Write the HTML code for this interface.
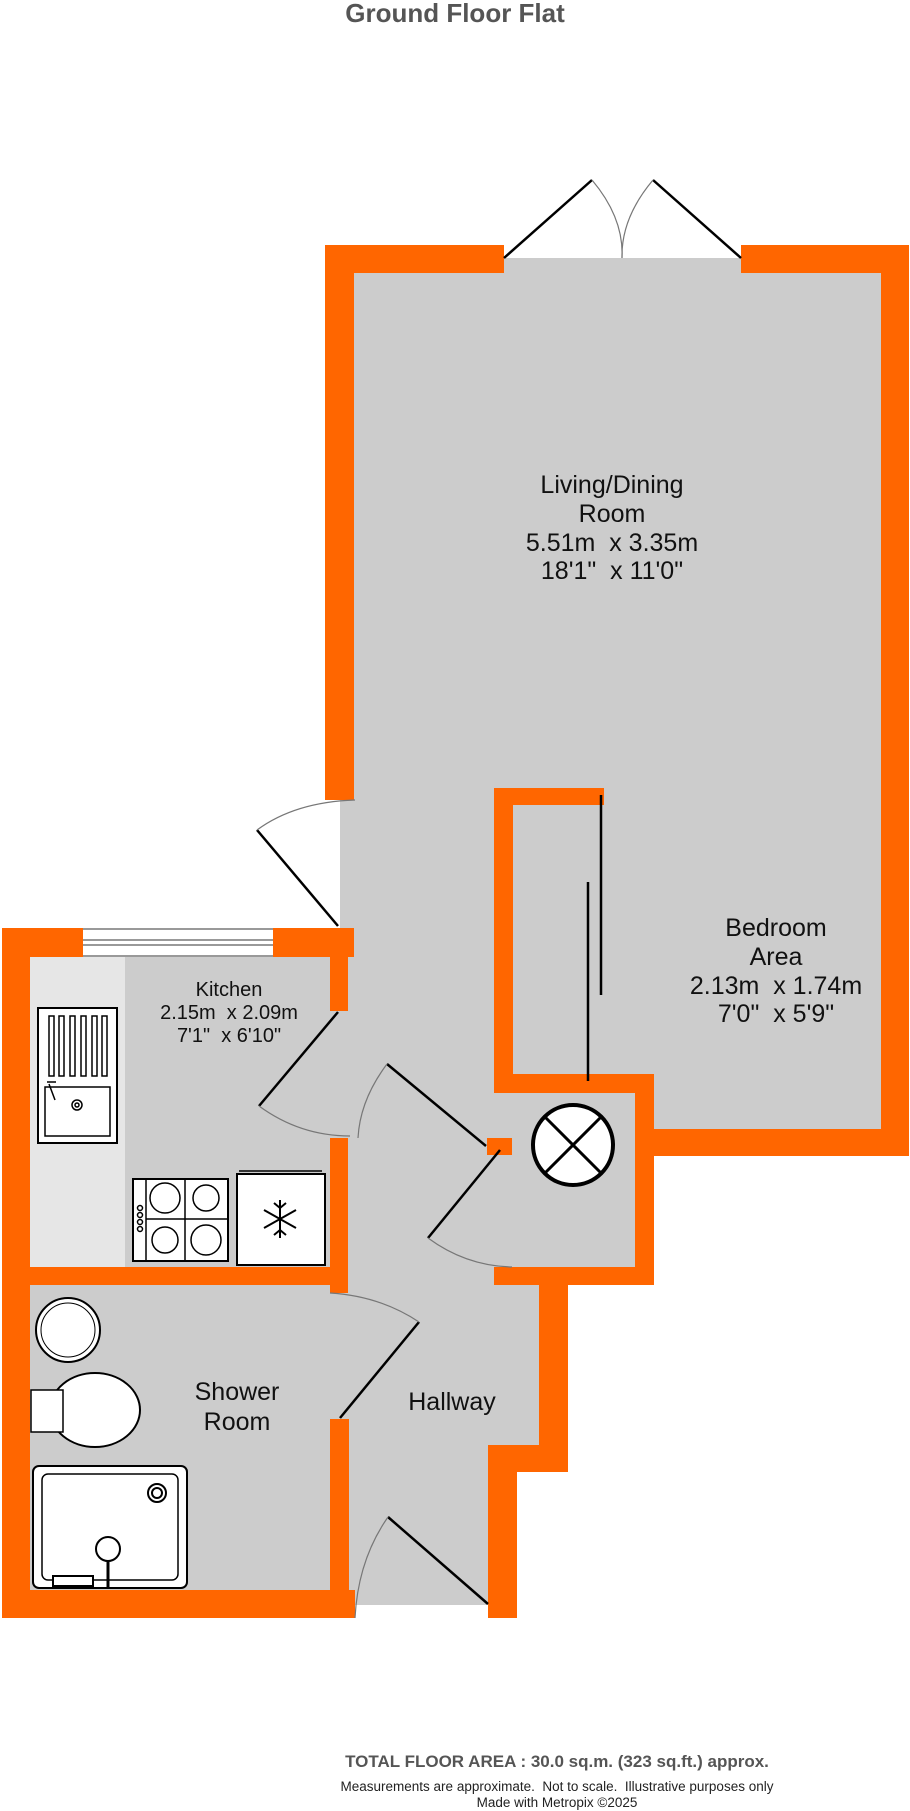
<!DOCTYPE html>
<html><head><meta charset="utf-8"><style>
body{margin:0;background:#fff;}
svg{display:block;font-family:"Liberation Sans",sans-serif;}
</style></head><body>
<svg width="910" height="1811" viewBox="0 0 910 1811" xmlns="http://www.w3.org/2000/svg">
<text x="455" y="22" text-anchor="middle" font-size="26" font-weight="bold" fill="#555">Ground Floor Flat</text>
<!-- floors -->
<g fill="#cccccc">
<rect x="340" y="258" width="555" height="884"/>
<rect x="30" y="955" width="315" height="315"/>
<rect x="30" y="1280" width="315" height="315"/>
<rect x="340" y="1090" width="200" height="360"/>
<rect x="340" y="1440" width="150" height="165"/>
<rect x="512" y="1090" width="125" height="180"/>
</g>
<rect x="30" y="957" width="95" height="310" fill="#e6e6e6"/>
<!-- walls -->
<g fill="#ff6600">
<rect x="325" y="245" width="29" height="555"/>
<rect x="325" y="245" width="179" height="28"/>
<rect x="741" y="245" width="168" height="28"/>
<rect x="881" y="245" width="28" height="911"/>
<rect x="654" y="1129" width="255" height="27"/>
<rect x="494" y="788" width="110" height="17"/>
<rect x="494" y="788" width="19" height="305"/>
<rect x="487" y="1138" width="25" height="17"/>
<rect x="494" y="1074" width="160" height="19"/>
<rect x="635" y="1074" width="19" height="211"/>
<rect x="494" y="1267" width="160" height="18"/>
<rect x="539" y="1267" width="29" height="205"/>
<rect x="488" y="1445" width="80" height="27"/>
<rect x="488" y="1445" width="29" height="173"/>
<rect x="2" y="928" width="81" height="29"/>
<rect x="273" y="928" width="81" height="29"/>
<rect x="2" y="928" width="28" height="690"/>
<rect x="330" y="928" width="18" height="83"/>
<rect x="330" y="1138" width="18" height="155"/>
<rect x="2" y="1267" width="346" height="18"/>
<rect x="330" y="1419" width="19" height="199"/>
<rect x="2" y="1590" width="353" height="28"/>
</g>
<!-- window -->
<rect x="83" y="928" width="190" height="29" fill="#fff"/>
<g stroke="#999" stroke-width="2"><line x1="83" y1="929" x2="273" y2="929"/><line x1="83" y1="940" x2="273" y2="940"/><line x1="83" y1="945" x2="273" y2="945"/><line x1="83" y1="956" x2="273" y2="956"/></g>
<!-- doors -->
<g fill="none" stroke="#000" stroke-width="2.5">
<line x1="504" y1="258" x2="592" y2="180"/><line x1="741" y1="258" x2="653" y2="180"/>
<line x1="257" y1="830" x2="338" y2="926"/>
<line x1="338" y1="1012" x2="259" y2="1106"/>
<line x1="486" y1="1146" x2="387" y2="1064"/>
<line x1="500" y1="1150" x2="428" y2="1238"/>
<line x1="419" y1="1322" x2="340" y2="1418"/>
<line x1="488" y1="1604" x2="388" y2="1517"/>
<line x1="601" y1="795" x2="601" y2="995"/>
<line x1="588" y1="882" x2="588" y2="1081"/>
</g>
<g fill="none" stroke="#777" stroke-width="1.2">
<path d="M592 180 Q624 218 622 258"/><path d="M653 180 Q621 218 622 258"/>
<path d="M355 800 Q295 802 257 830"/>
<path d="M259 1106 Q300 1136 350 1136"/>
<path d="M387 1064 Q360 1100 358 1138"/>
<path d="M428 1238 Q466 1266 512 1267"/>
<path d="M330 1293 Q380 1296 419 1322"/>
<path d="M388 1517 Q358 1560 355 1618"/>
</g>
<!-- kitchen fixtures -->
<g fill="#fff" stroke="#000" stroke-width="2">
<rect x="38" y="1008" width="79" height="135"/>
<rect x="45" y="1087" width="65" height="49" stroke-width="1.5"/>
<rect x="133" y="1179" width="95" height="82"/>
<rect x="237" y="1174" width="88" height="91"/>
<circle cx="573" cy="1145" r="40" stroke-width="4"/>
</g>
<g stroke="#000" stroke-width="1.5" fill="none">
<rect x="49" y="1016" width="5" height="60"/><rect x="59" y="1016" width="5" height="60"/><rect x="70" y="1016" width="5" height="60"/><rect x="81" y="1016" width="5" height="60"/><rect x="92" y="1016" width="5" height="60"/><rect x="102" y="1016" width="5" height="60"/>
<circle cx="77" cy="1105" r="5"/><circle cx="77" cy="1105" r="2"/>
<path d="M49 1084 L55 1100 M47 1082 L56 1082"/>
<line x1="146" y1="1179" x2="146" y2="1261"/><line x1="185" y1="1179" x2="185" y2="1261"/><line x1="146" y1="1219" x2="228" y2="1219"/>
<circle cx="165" cy="1198" r="15"/><circle cx="206" cy="1198" r="13"/><circle cx="165" cy="1240" r="13"/><circle cx="206" cy="1240" r="15"/>
<circle cx="140" cy="1208" r="2.5"/><circle cx="140" cy="1215" r="2.5"/><circle cx="140" cy="1222" r="2.5"/><circle cx="140" cy="1229" r="2.5"/>
<line x1="239" y1="1171" x2="322" y2="1171"/>
<path d="M280 1200 V1238 M264 1210 L296 1228 M264 1228 L296 1210 M274 1203 L280 1208 L286 1203 M274 1235 L280 1230 L286 1235" stroke-width="2"/>
<line x1="545" y1="1117" x2="601" y2="1173" stroke-width="3"/><line x1="601" y1="1117" x2="545" y2="1173" stroke-width="3"/>
</g>
<!-- shower room fixtures -->
<g fill="#fff" stroke="#000" stroke-width="2">
<circle cx="68" cy="1330" r="32"/>
<circle cx="68" cy="1330" r="27" stroke-width="1"/>
<ellipse cx="95" cy="1410" rx="45" ry="37"/>
<rect x="31" y="1390" width="32" height="42" stroke-width="1.5"/>
<rect x="33" y="1466" width="154" height="122" rx="6"/>
<rect x="42" y="1474" width="136" height="106" rx="6" stroke-width="1.5"/>
<circle cx="157" cy="1493" r="9"/><circle cx="157" cy="1493" r="5"/>
<circle cx="108" cy="1549" r="12"/>
<rect x="53" y="1576" width="40" height="10"/>
</g>
<line x1="108" y1="1561" x2="108" y2="1588" stroke="#000" stroke-width="3"/>
<!-- labels -->
<g fill="#111" text-anchor="middle">
<g font-size="25"><text x="612" y="493">Living/Dining</text><text x="612" y="522">Room</text><text x="612" y="551">5.51m&#160; x 3.35m</text><text x="612" y="579">18'1"&#160; x 11'0"</text>
<text x="776" y="936">Bedroom</text><text x="776" y="965">Area</text><text x="776" y="994">2.13m&#160; x 1.74m</text><text x="776" y="1022">7'0"&#160; x 5'9"</text>
<text x="237" y="1400">Shower</text><text x="237" y="1430">Room</text><text x="452" y="1410">Hallway</text></g>
<g font-size="20"><text x="229" y="996">Kitchen</text><text x="229" y="1019">2.15m&#160; x 2.09m</text><text x="229" y="1042">7'1"&#160; x 6'10"</text></g>
<text x="557" y="1767" font-size="17" font-weight="bold" fill="#555">TOTAL FLOOR AREA : 30.0 sq.m. (323 sq.ft.) approx.</text>
<text x="557" y="1791" font-size="13.5" fill="#222">Measurements are approximate.&#160; Not to scale.&#160; Illustrative purposes only</text>
<text x="557" y="1807" font-size="13.5" fill="#222">Made with Metropix ©2025</text>
</g>
</svg>
</body></html>
